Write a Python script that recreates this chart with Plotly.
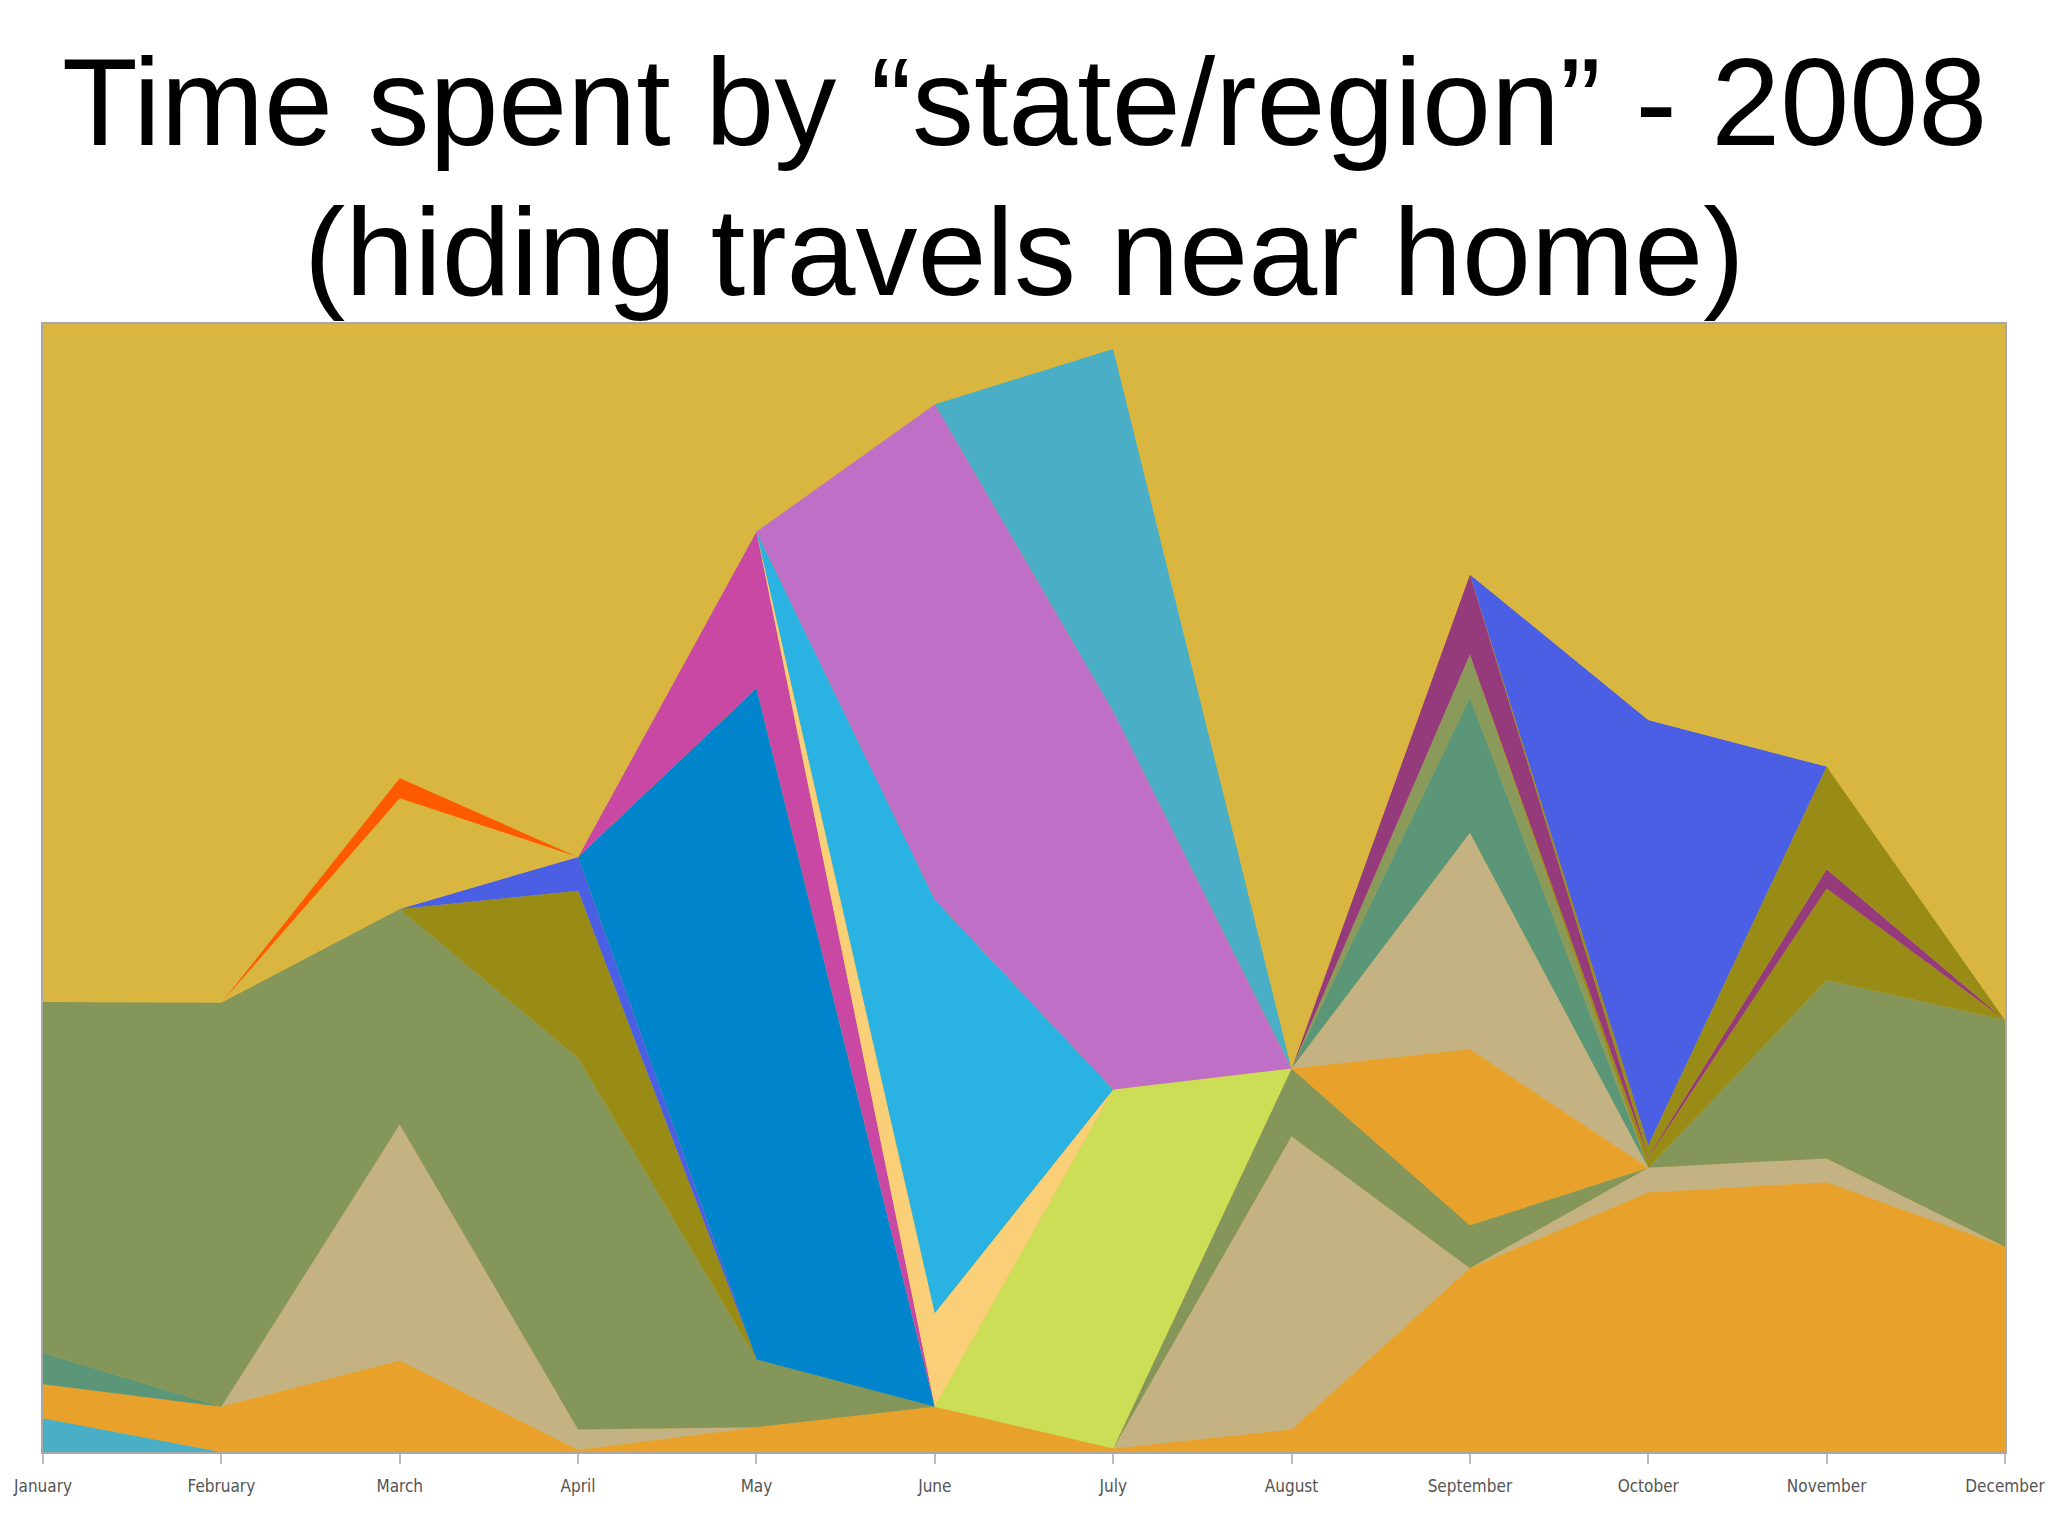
import plotly.graph_objects as go

months = ["January", "February", "March", "April", "May", "June",
          "July", "August", "September", "October", "November", "December"]

# Share of each month (percent), stacked bottom -> top
cyan_jan     = [3.0, 0, 0, 0, 0, 0, 0, 0, 0, 0, 0, 0]
orange_base  = [3.0, 4.0, 8.1, 0.2, 2.2, 4.0, 0.3, 2.0, 16.3, 23.0, 23.9, 18.2]
teal_jan     = [2.8, 0, 0, 0, 0, 0, 0, 0, 0, 0, 0, 0]
tan_low      = [0, 0, 20.9, 1.8, 0, 0, 0, 26.0, 0, 2.2, 2.1, 0]
olive_main   = [31.1, 35.8, 19.1, 32.9, 6.0, 0, 0, 6.0, 3.8, 0, 15.8, 20.1]
orange_upper = [0, 0, 0, 0, 0, 0, 0, 0, 15.6, 0, 0, 0]
tan_upper    = [0, 0, 0, 0, 0, 0, 0, 0, 19.2, 0, 0, 0]
teal_sep     = [0, 0, 0, 0, 0, 0, 0, 0, 12.0, 0, 0, 0]
olive_light  = [0, 0, 0, 0, 0, 0, 0, 0, 3.8, 0, 0, 0]
dark_olive_a = [0, 0, 0, 14.8, 0, 0, 0, 0, 0, 0.9, 8.1, 0]
purple       = [0, 0, 0, 0, 0, 0, 0, 0, 7.1, 0.1, 1.7, 0]
dark_olive_b = [0, 0, 0, 0, 0, 0, 0, 0, 0, 1.0, 9.1, 0]
royal_blue   = [0, 0, 0, 3.0, 0, 0, 0, 0, 0, 37.7, 0, 0]
gold_low     = [0, 0, 9.8, 0, 0, 0, 0, 0, 0, 0, 0, 0]
red_orange   = [0, 0, 1.8, 0, 0, 0, 0, 0, 0, 0, 0, 0]
blue         = [0, 0, 0, 0, 59.5, 0, 0, 0, 0, 0, 0, 0]
magenta      = [0, 0, 0, 0, 13.9, 0, 0, 0, 0, 0, 0, 0]
lime         = [0, 0, 0, 0, 0, 0, 31.8, 0, 0, 0, 0, 0]
light_orange = [0, 0, 0, 0, 0, 8.3, 0, 0, 0, 0, 0, 0]
light_blue   = [0, 0, 0, 0, 0, 36.6, 0, 0, 0, 0, 0, 0]
violet       = [0, 0, 0, 0, 0, 43.9, 33.5, 0, 0, 0, 0, 0]
cyan_teal    = [0, 0, 0, 0, 0, 0, 32.1, 0, 0, 0, 0, 0]
goldenrod    = [60.1, 60.1, 40.2, 47.2, 18.4, 7.1, 2.2, 66.0, 22.2, 35.1, 39.2, 61.7]

layers = [
    (cyan_jan, "#4AAFC6"),
    (orange_base, "#E8A22C"),
    (teal_jan, "#5A9677"),
    (tan_low, "#C5B282"),
    (olive_main, "#84965A"),
    (orange_upper, "#E8A22C"),
    (tan_upper, "#C5B282"),
    (teal_sep, "#5A9677"),
    (olive_light, "#8A9A5B"),
    (dark_olive_a, "#988C17"),
    (purple, "#953A7B"),
    (dark_olive_b, "#988C17"),
    (royal_blue, "#4A5FE3"),
    (gold_low, "#D8B640"),
    (red_orange, "#FF5A00"),
    (blue, "#0085CC"),
    (magenta, "#C848A4"),
    (lime, "#CCDE56"),
    (light_orange, "#F9CF78"),
    (light_blue, "#29B2E2"),
    (violet, "#BF70C6"),
    (cyan_teal, "#4AAFC6"),
    (goldenrod, "#D8B640"),
]

fig = go.Figure()
for vals, col in layers:
    fig.add_trace(go.Scatter(
        x=months, y=vals, mode="lines", stackgroup="one", groupnorm="percent",
        line=dict(width=0, color=col), fillcolor=col, hoverinfo="skip",
        showlegend=False))

fig.update_layout(
    width=2048, height=1536,
    margin=dict(l=43, r=43, t=324, b=84, autoexpand=False),
    paper_bgcolor="white", plot_bgcolor="#D8B640",
    showlegend=False,
    font=dict(family="Liberation Sans, Arial, sans-serif"),
)
fig.update_xaxes(
    type="category", range=[0, 11], showgrid=False, zeroline=False, automargin=False,
    showline=True, linecolor="#A8A8A8", linewidth=2, mirror=True,
    ticks="outside", ticklen=10, tickcolor="#BBBBBB", tickwidth=2,
    ticklabelstandoff=8,
    tickfont=dict(family="DejaVu Sans Condensed, DejaVu Sans, sans-serif", size=17, color="#555555"),
)
fig.update_yaxes(
    range=[0, 100], showgrid=False, zeroline=False, showticklabels=False, automargin=False,
    showline=True, linecolor="#A8A8A8", linewidth=2, mirror=True, ticks="",
)

title_font = dict(family="Liberation Sans, Arial, Helvetica, sans-serif", size=124, color="black")
fig.add_annotation(text="Time spent by “state/region” - 2008", xref="paper", yref="paper",
                   x=0.5, y=1.197, xanchor="center", yanchor="middle", showarrow=False,
                   font=title_font)
fig.add_annotation(text="(hiding travels near home)", xref="paper", yref="paper",
                   x=0.5, y=1.064, xanchor="center", yanchor="middle", showarrow=False,
                   font=title_font)

fig.write_html(
    "out.html",
    config={"displayModeBar": False},
    post_script="document.body.style.margin='0';document.body.style.overflow='hidden';",
)
